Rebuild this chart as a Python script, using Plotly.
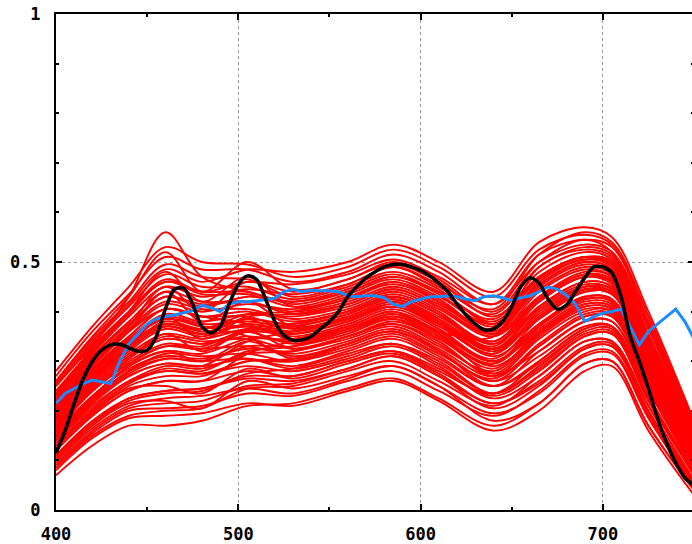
import plotly.graph_objects as go

# ---------------- data ----------------
wavelength_knots = [400, 420, 440, 460, 480, 505, 530, 560, 585, 610, 640, 665, 690, 705, 725, 750]

red_curves = [
    [.07, .13, .17, .17, .18, .21, .215, .245, .265, .225, .17, .215, .295, .30, .17, .04],
    [.08, .145, .185, .19, .195, .215, .21, .24, .26, .22, .16, .20, .28, .29, .16, .03],
    [.09, .155, .20, .205, .21, .235, .23, .26, .28, .24, .19, .24, .315, .32, .19, .05],
    [.10, .165, .21, .225, .23, .245, .235, .265, .29, .25, .18, .215, .295, .30, .17, .04],
    [.085, .15, .19, .20, .205, .245, .25, .28, .30, .26, .21, .27, .34, .34, .21, .06],
    [.11, .18, .225, .24, .245, .265, .26, .285, .31, .27, .205, .25, .325, .33, .195, .05],
    [.12, .19, .24, .26, .26, .28, .27, .30, .32, .28, .235, .30, .365, .37, .23, .075],
    [.11, .175, .22, .235, .24, .275, .285, .315, .335, .30, .235, .285, .35, .355, .22, .07],
    [.135, .20, .255, .28, .275, .29, .28, .305, .33, .29, .225, .27, .34, .34, .21, .06],
    [.145, .215, .27, .295, .29, .305, .29, .32, .345, .305, .25, .32, .38, .38, .245, .08],
    [.13, .195, .25, .27, .27, .30, .30, .33, .355, .315, .265, .335, .395, .395, .255, .09],
    [.155, .225, .28, .315, .31, .315, .30, .325, .35, .31, .25, .30, .365, .37, .23, .075],
    [.165, .24, .295, .33, .325, .33, .315, .34, .365, .325, .27, .345, .40, .40, .26, .095],
    [.14, .21, .26, .29, .285, .315, .32, .345, .37, .33, .28, .355, .41, .405, .27, .10],
    [.175, .25, .31, .35, .34, .345, .325, .35, .375, .34, .27, .33, .39, .39, .25, .085],
    [.15, .22, .275, .305, .30, .33, .33, .355, .385, .345, .295, .37, .425, .42, .28, .105],
    [.185, .26, .325, .37, .355, .36, .335, .36, .39, .35, .29, .355, .41, .405, .27, .10],
    [.16, .23, .29, .32, .315, .345, .345, .37, .40, .36, .305, .385, .44, .435, .29, .11],
    [.195, .275, .34, .385, .37, .37, .35, .375, .405, .365, .30, .365, .42, .415, .275, .10],
    [.17, .245, .305, .345, .335, .36, .355, .38, .41, .37, .315, .40, .45, .44, .30, .115],
    [.18, .255, .315, .355, .345, .365, .36, .385, .415, .375, .31, .375, .43, .425, .285, .11],
    [.205, .285, .35, .405, .39, .39, .365, .39, .42, .38, .325, .405, .455, .445, .305, .12],
    [.165, .24, .295, .33, .325, .36, .37, .395, .425, .39, .335, .42, .47, .46, .315, .13],
    [.19, .27, .33, .38, .365, .385, .375, .40, .43, .395, .325, .385, .44, .435, .29, .11],
    [.215, .30, .365, .42, .405, .405, .385, .405, .435, .40, .335, .41, .46, .45, .31, .125],
    [.20, .28, .345, .395, .38, .395, .39, .41, .44, .405, .35, .44, .485, .47, .33, .135],
    [.185, .26, .325, .37, .355, .39, .395, .415, .445, .41, .35, .425, .47, .46, .32, .13],
    [.225, .31, .38, .44, .42, .42, .40, .42, .45, .415, .36, .445, .49, .475, .335, .14],
    [.21, .295, .36, .415, .40, .415, .405, .425, .46, .42, .355, .43, .475, .465, .325, .13],
    [.24, .32, .395, .46, .435, .435, .41, .435, .465, .43, .375, .465, .505, .495, .345, .145],
    [.22, .305, .37, .43, .41, .43, .42, .445, .475, .44, .385, .48, .52, .505, .355, .155],
    [.25, .335, .41, .475, .45, .45, .425, .45, .48, .445, .375, .455, .50, .485, .34, .14],
    [.235, .315, .39, .45, .43, .445, .435, .455, .49, .45, .395, .49, .53, .515, .365, .16],
    [.26, .345, .42, .495, .47, .465, .44, .465, .495, .46, .39, .47, .51, .50, .35, .15],
    [.24, .325, .40, .465, .44, .46, .455, .475, .505, .47, .415, .515, .545, .53, .38, .17],
    [.27, .36, .435, .51, .485, .485, .46, .48, .515, .48, .415, .50, .535, .52, .37, .16],
    [.28, .37, .45, .53, .50, .495, .47, .49, .525, .49, .43, .525, .555, .535, .39, .17],
    [.255, .34, .415, .485, .46, .485, .48, .50, .535, .50, .44, .54, .57, .55, .40, .18],
    [.145, .215, .27, .295, .29, .34, .36, .385, .41, .375, .325, .41, .46, .45, .31, .125],
    [.195, .275, .34, .385, .37, .35, .305, .335, .36, .32, .25, .295, .36, .365, .225, .07],
    [.12, .19, .24, .26, .26, .315, .34, .365, .39, .355, .275, .32, .38, .38, .245, .08],
    [.205, .285, .35, .405, .39, .375, .345, .37, .40, .36, .35, .49, .525, .51, .365, .16],
    [.23, .33, .43, .56, .47, .44, .42, .44, .47, .44, .38, .47, .51, .50, .35, .15],
    [.10, .17, .215, .22, .205, .26, .245, .27, .29, .25, .195, .235, .31, .315, .185, .045],
    [.125, .195, .245, .25, .235, .285, .265, .295, .315, .275, .215, .26, .33, .335, .20, .055],
    [.15, .225, .29, .32, .30, .34, .31, .335, .36, .32, .26, .33, .39, .39, .255, .085],
    [.165, .245, .305, .355, .32, .36, .325, .35, .38, .345, .285, .36, .415, .41, .275, .10],
    [.18, .265, .33, .39, .345, .385, .34, .365, .395, .36, .30, .375, .43, .425, .285, .105],
    [.21, .29, .36, .44, .38, .42, .37, .39, .42, .385, .33, .42, .47, .455, .32, .13],
    [.235, .32, .40, .48, .42, .47, .41, .43, .46, .425, .36, .455, .50, .485, .34, .14],
    [.26, .35, .43, .52, .44, .50, .445, .465, .50, .465, .40, .50, .545, .52, .375, .165],
    [.14, .205, .26, .28, .275, .30, .305, .335, .36, .32, .26, .31, .37, .37, .24, .08],
    [.155, .23, .285, .31, .305, .325, .32, .35, .375, .335, .275, .35, .405, .40, .265, .095],
    [.17, .25, .31, .345, .335, .35, .34, .365, .395, .355, .30, .36, .415, .41, .27, .10],
    [.19, .27, .335, .375, .36, .37, .355, .38, .41, .375, .315, .39, .445, .44, .30, .115],
    [.20, .28, .345, .39, .375, .38, .37, .395, .425, .385, .325, .395, .45, .445, .30, .115],
    [.175, .255, .32, .365, .35, .375, .36, .385, .415, .38, .32, .39, .445, .435, .295, .115],
    [.215, .295, .36, .405, .39, .40, .38, .40, .43, .395, .34, .425, .475, .46, .32, .13],
    [.23, .31, .375, .43, .415, .42, .395, .415, .445, .41, .355, .45, .495, .48, .335, .14],
    [.25, .33, .40, .46, .44, .44, .415, .44, .47, .435, .37, .47, .51, .495, .35, .15],
    [.105, .175, .225, .24, .245, .27, .27, .30, .32, .285, .23, .28, .35, .355, .22, .07],
    [.095, .16, .205, .215, .22, .25, .255, .285, .31, .27, .215, .255, .325, .33, .20, .055],
    [.16, .24, .30, .335, .33, .365, .375, .40, .43, .395, .34, .43, .48, .47, .325, .135],
    [.185, .265, .33, .375, .365, .395, .40, .425, .455, .42, .365, .46, .505, .49, .345, .145],
    [.13, .20, .255, .285, .28, .32, .33, .36, .385, .35, .295, .37, .425, .42, .28, .105],
    [.20, .29, .37, .45, .40, .46, .43, .455, .49, .455, .405, .515, .56, .54, .39, .175],
    [.145, .22, .28, .305, .30, .305, .285, .31, .335, .295, .235, .29, .355, .36, .225, .07],
]

black_x = [400, 405, 410, 415, 420, 425, 430, 435, 440, 445, 450, 455, 460, 465, 470, 475,
           480, 485, 490, 495, 500, 505, 510, 515, 520, 525, 530, 535, 540, 545, 550, 555,
           560, 565, 570, 575, 580, 585, 590, 595, 600, 605, 610, 615, 620, 625, 630, 635,
           640, 645, 650, 655, 660, 665, 670, 675, 680, 685, 690, 695, 700, 705, 710, 715,
           720, 725, 730, 735, 740, 745, 750]
black_y = [0.115, 0.16, 0.215, 0.265, 0.30, 0.322, 0.333, 0.334, 0.327, 0.32, 0.322, 0.35,
           0.405, 0.445, 0.447, 0.415, 0.37, 0.357, 0.37, 0.415, 0.455, 0.472, 0.465, 0.425,
           0.38, 0.352, 0.342, 0.343, 0.35, 0.365, 0.38, 0.40, 0.43, 0.45, 0.468, 0.48, 0.49,
           0.495, 0.495, 0.49, 0.483, 0.472, 0.457, 0.44, 0.415, 0.393, 0.375, 0.363, 0.365,
           0.38, 0.41, 0.45, 0.468, 0.457, 0.425, 0.405, 0.413, 0.44, 0.468, 0.49, 0.49, 0.478,
           0.43, 0.35, 0.30, 0.245, 0.185, 0.135, 0.095, 0.065, 0.05]

blue_x = [400, 405, 410, 415, 420, 425, 430, 435, 440, 445, 450, 455, 460, 465, 470, 475,
          480, 485, 490, 495, 500, 505, 510, 515, 520, 525, 530, 535, 540, 545, 550, 555,
          560, 565, 570, 575, 580, 585, 590, 595, 600, 605, 610, 615, 620, 625, 630, 635,
          640, 645, 650, 655, 660, 665, 670, 675, 680, 685, 690, 695, 700, 705, 710, 715,
          720, 725, 730, 735, 740, 745, 750]
blue_y = [0.215, 0.235, 0.245, 0.255, 0.262, 0.258, 0.255, 0.30, 0.335, 0.355, 0.375, 0.385,
          0.39, 0.393, 0.397, 0.402, 0.413, 0.408, 0.40, 0.415, 0.42, 0.42, 0.422, 0.424, 0.427,
          0.44, 0.445, 0.44, 0.443, 0.442, 0.442, 0.44, 0.432, 0.43, 0.432, 0.432, 0.428, 0.415,
          0.41, 0.42, 0.425, 0.43, 0.43, 0.432, 0.43, 0.425, 0.422, 0.43, 0.432, 0.428, 0.422,
          0.428, 0.432, 0.44, 0.45, 0.445, 0.433, 0.415, 0.38, 0.39, 0.397, 0.40, 0.405, 0.37,
          0.333, 0.36, 0.375, 0.39, 0.405, 0.38, 0.345]

x_tick_vals = [400, 500, 600, 700]
x_tick_text = ["400", "500", "600", "700"]
y_tick_vals = [0, 0.5, 1]
y_tick_text = ["0", "0.5", "1"]

# ---------------- figure ----------------
fig = go.Figure()

for curve in red_curves:
    fig.add_trace(go.Scatter(x=wavelength_knots, y=curve, mode="lines",
                             line=dict(color="#ff0000", width=1.9, shape="spline", smoothing=1.0),
                             showlegend=False, hoverinfo="skip"))

fig.add_trace(go.Scatter(x=blue_x, y=blue_y, mode="lines",
                         line=dict(color="#1a8cff", width=3), showlegend=False))
fig.add_trace(go.Scatter(x=black_x, y=black_y, mode="lines",
                         line=dict(color="#000000", width=3.5, shape="spline", smoothing=0.8),
                         showlegend=False))

tick_font = dict(family="DejaVu Sans Mono", size=17, color="black", weight="bold")

fig.update_layout(
    width=696, height=544,
    margin=dict(l=56, r=0, t=14, b=32),
    paper_bgcolor="white", plot_bgcolor="white",
    showlegend=False,
    xaxis=dict(range=[400, 750], tickvals=x_tick_vals, ticktext=x_tick_text,
               ticks="inside", ticklen=6, tickwidth=1.5, tickcolor="black",
               minor=dict(dtick=50, tick0=400, ticks="inside", ticklen=3, tickwidth=1.5,
                          tickcolor="black", showgrid=False),
               showline=True, linecolor="black", linewidth=2, mirror="allticks",
               showgrid=True, gridcolor="#999999", gridwidth=1.3, griddash="3px,3px",
               zeroline=False, tickfont=tick_font, ticklabelstandoff=8),
    yaxis=dict(range=[0, 1], tickvals=y_tick_vals, ticktext=y_tick_text,
               ticks="inside", ticklen=6, tickwidth=1.5, tickcolor="black",
               minor=dict(dtick=0.1, tick0=0, ticks="inside", ticklen=3, tickwidth=1.5,
                          tickcolor="black", showgrid=False),
               showline=True, linecolor="black", linewidth=2, mirror="allticks",
               showgrid=True, gridcolor="#999999", gridwidth=1.3, griddash="3px,3px",
               zeroline=False, tickfont=tick_font, ticklabelstandoff=10),
)

fig.write_html("out.html",
               post_script="document.body.style.margin='0';document.body.style.overflow='hidden';",
               config={"displayModeBar": False})
